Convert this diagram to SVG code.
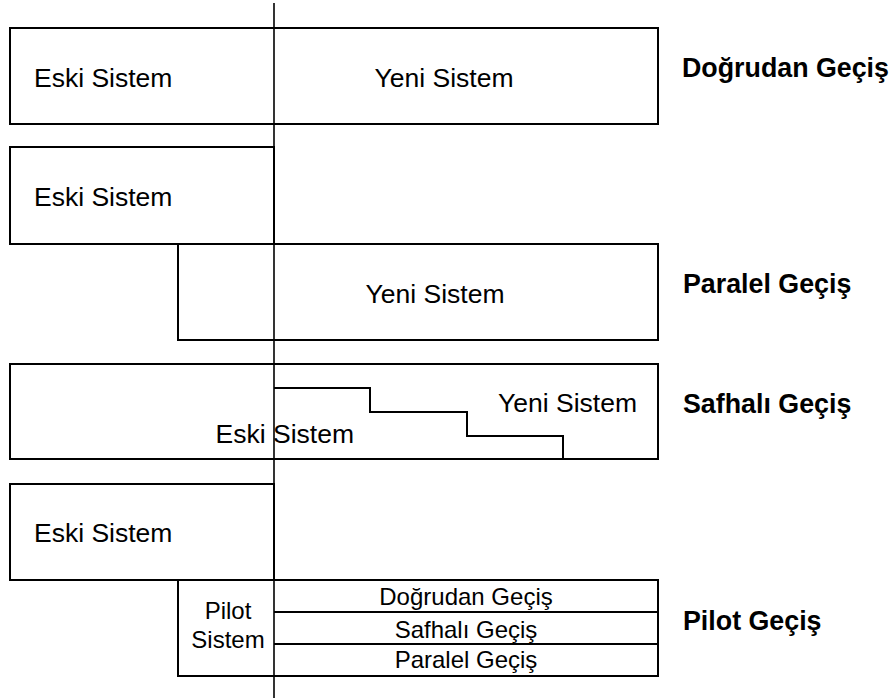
<svg xmlns="http://www.w3.org/2000/svg" width="890" height="698" viewBox="0 0 890 698">
<style>
.box{fill:none;stroke:#000;stroke-width:2}
.ln{fill:none;stroke:#000;stroke-width:1.6}
text{font-family:"Liberation Sans",Arial,sans-serif;fill:#000}
.t{font-size:26.5px}
.s{font-size:24px}
.b{font-size:26.8px;font-weight:bold}
.m{text-anchor:middle}
</style>
<rect width="890" height="698" fill="#fff"/>
<g id="dogrudan">
<rect class="box" x="10" y="28" width="648" height="96"/>
<text class="t" x="34" y="87">Eski Sistem</text>
<text class="t m" x="444" y="87">Yeni Sistem</text>
<text class="b" x="682" y="77">Doğrudan Geçiş</text>
</g>
<g id="paralel">
<rect class="box" x="10" y="147" width="264" height="97"/>
<text class="t" x="34" y="206">Eski Sistem</text>
<rect class="box" x="178" y="244" width="480" height="96"/>
<text class="t m" x="435" y="303">Yeni Sistem</text>
<text class="b" x="683" y="293">Paralel Geçiş</text>
</g>
<g id="safhali">
<rect class="box" x="10" y="364" width="648" height="95"/>
<path class="box" d="M274 388 H370 V412 H467 V436 H563 V459"/>
<text class="t" x="498" y="412">Yeni Sistem</text>
<text class="t" x="354" y="443" text-anchor="end">Eski Sistem</text>
<text class="b" x="683" y="413">Safhalı Geçiş</text>
</g>
<g id="pilot">
<rect class="box" x="10" y="484" width="264" height="96"/>
<text class="t" x="34" y="542">Eski Sistem</text>
<rect class="box" x="178" y="580" width="480" height="96"/>
<line class="box" x1="274" y1="612" x2="658" y2="612"/>
<line class="box" x1="274" y1="644" x2="658" y2="644"/>
<text class="s m" x="228" y="619">Pilot</text>
<text class="s m" x="228" y="648">Sistem</text>
<text class="s m" x="466" y="605">Doğrudan Geçiş</text>
<text class="s m" x="466" y="638">Safhalı Geçiş</text>
<text class="s m" x="466" y="668">Paralel Geçiş</text>
<text class="b" x="683" y="630">Pilot Geçiş</text>
</g>
<g id="connectors">
<line class="ln" x1="274" y1="3" x2="274" y2="698"/>
</g>
</svg>
